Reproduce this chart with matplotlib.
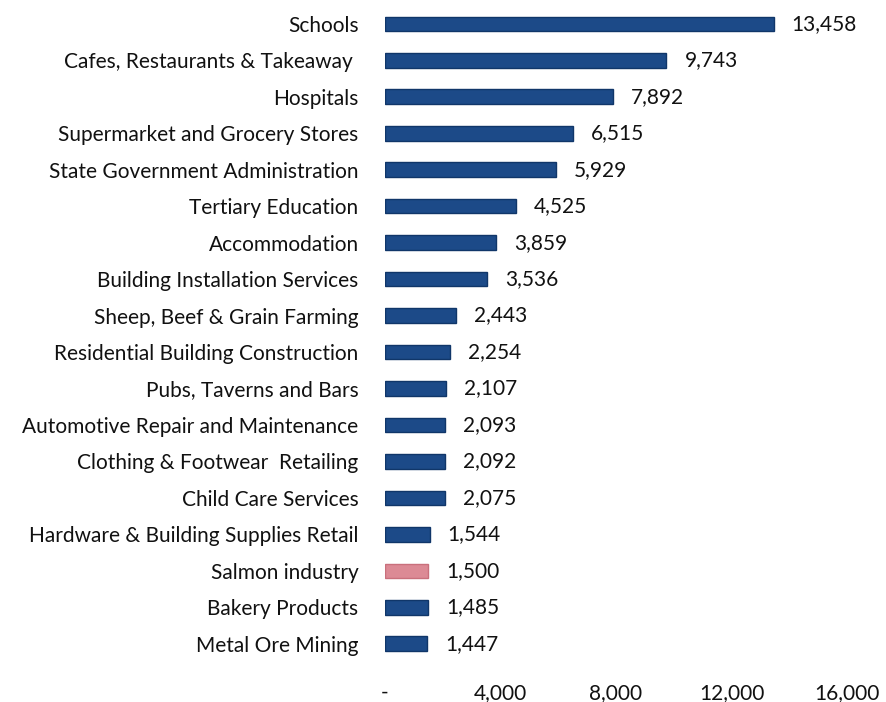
import matplotlib.pyplot as plt

# Industries, top to bottom
industries = [
    "Schools", "Cafes, Restaurants & Takeaway ", "Hospitals",
    "Supermarket and Grocery Stores", "State Government Administration",
    "Tertiary Education", "Accommodation", "Building Installation Services",
    "Sheep, Beef & Grain Farming", "Residential Building Construction",
    "Pubs, Taverns and Bars", "Automotive Repair and Maintenance",
    "Clothing & Footwear  Retailing", "Child Care Services",
    "Hardware & Building Supplies Retail", "Salmon industry",
    "Bakery Products", "Metal Ore Mining",
]
jobs = [13458, 9743, 7892, 6515, 5929, 4525, 3859, 3536, 2443, 2254,
        2107, 2093, 2092, 2075, 1544, 1500, 1485, 1447]
highlight = "Salmon industry"

x_ticks = [0, 4000, 8000, 12000, 16000]
x_tick_labels = ["-", "4,000", "8,000", "12,000", "16,000"]

blue = "#1c4a88"
blue_edge = "#103669"
pink = "#dc8a95"
pink_edge = "#c9707c"

plt.rcParams['font.family'] = ['Lato', 'DejaVu Sans']

fig = plt.figure(figsize=(8.86, 7.02), dpi=100)
ax = fig.add_axes([0.4345, 0.057, 0.5215, 0.935])

pos = list(range(len(industries)))
colors = [pink if n == highlight else blue for n in industries]
edges = [pink_edge if n == highlight else blue_edge for n in industries]
ax.barh(pos, jobs, height=0.4, color=colors, edgecolor=edges, linewidth=1)

for p, v in zip(pos, jobs):
    ax.annotate(f"{v:,}", (v, p), xytext=(13, 0), textcoords="offset points",
                va="center", ha="left", fontsize=15, color="#111111")

ax.set_xlim(0, 16000)
ax.set_ylim(len(industries) - 0.5, -0.5)
ax.set_yticks(pos)
ax.set_yticklabels(industries, fontsize=15, color="#111111")
ax.set_xticks(x_ticks)
ax.set_xticklabels(x_tick_labels, fontsize=15, color="#111111")
ax.tick_params(axis="y", length=0, pad=19)
ax.tick_params(axis="x", length=0, pad=15)
for s in ax.spines.values():
    s.set_visible(False)

fig.savefig("out.png", dpi=100)
